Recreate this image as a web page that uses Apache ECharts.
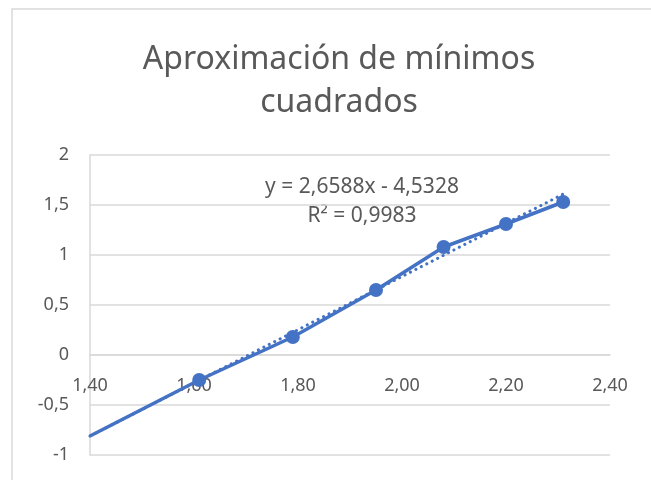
<!DOCTYPE html>
<html>
<head>
<meta charset="utf-8">
<script src="https://cdn.jsdelivr.net/npm/echarts@6/dist/echarts.min.js"></script>
<style>
  html, body { margin: 0; padding: 0; background: #fff; }
  #chart { width: 651px; height: 480px; }
</style>
</head>
<body>
<div id="chart"></div>
<script>
// Measured values (x, y)
const xValues = [1.61, 1.79, 1.95, 2.08, 2.20, 2.31];
const yValues = [-0.25, 0.18, 0.65, 1.08, 1.31, 1.53];

// Linear fit shown on the chart
const slope = 2.6588;
const intercept = -4.5328;
const rSquared = 0.9983;
const fitRange = [1.40, 2.31];

const yTicks = [-1, -0.5, 0, 0.5, 1, 1.5, 2];
const xTicks = [1.40, 1.60, 1.80, 2.00, 2.20, 2.40];

const titleText = 'Aproximación de mínimos\ncuadrados';

const fmt = (v, d) => v.toFixed(d).replace('.', ',');
const fitLabel = 'y = ' + fmt(slope, 4) + 'x - ' + fmt(-intercept, 4) + '\nR² = ' + fmt(rSquared, 4);

const fitPoints = fitRange.map(x => [x, slope * x + intercept]);
// Backward extension of the fit, up to the first measured point, drawn solid
const leadPoints = [[fitRange[0], slope * fitRange[0] + intercept], [xValues[0], yValues[0]]];
const dataPoints = xValues.map((x, i) => [x, yValues[i]]);

const blue = '#4472C4';
const textColor = '#595959';
const gridColor = '#D9D9D9';
const font = 'Noto Sans';

const gridTop = 155, gridBottom = 25;
const plotHeight = 480 - gridTop - gridBottom;
const yMin = yTicks[0], yMax = yTicks[yTicks.length - 1];
// Move the x axis up so it sits on y = 0
const xAxisOffset = -plotHeight * (0 - yMin) / (yMax - yMin);

const chart = echarts.init(document.getElementById('chart'));
chart.setOption({
  backgroundColor: '#fff',
  animation: false,
  title: {
    text: titleText,
    left: 334,
    textAlign: 'center',
    top: 33,
    textStyle: {
      fontFamily: font, fontSize: 32, fontWeight: 'normal', color: textColor, lineHeight: 43
    }
  },
  grid: { left: 90, right: 41, top: gridTop, bottom: gridBottom, outerBoundsMode: 'none', containLabel: false },
  xAxis: {
    type: 'value', min: xTicks[0], max: xTicks[xTicks.length - 1], interval: 0.2,
    offset: xAxisOffset,
    axisLine: { show: true, onZero: false, lineStyle: { color: gridColor, width: 1.5 } },
    axisTick: { show: false },
    splitLine: { show: false },
    axisLabel: {
      color: textColor, fontFamily: font, fontSize: 18, margin: 22,
      formatter: v => fmt(v, 2)
    }
  },
  yAxis: {
    type: 'value', min: yMin, max: yMax, interval: 0.5,
    axisLine: { show: true, lineStyle: { color: gridColor, width: 1.5 } },
    axisTick: { show: false },
    splitLine: { show: true, lineStyle: { color: gridColor, width: 1.5 } },
    axisLabel: {
      color: textColor, fontFamily: font, fontSize: 18, margin: 21,
      formatter: v => String(v).replace('.', ',')
    }
  },
  graphic: [{
    type: 'rect', shape: { x: 12, y: 9, width: 700, height: 600 },
    style: { fill: 'none', stroke: gridColor, lineWidth: 1.5 }, silent: true
  }, {
    type: 'text', x: 362, y: 173,
    style: {
      text: fitLabel, fill: textColor, font: '21px "Noto Sans"',
      textAlign: 'center', lineHeight: 29
    }
  }],
  series: [{
    type: 'line', data: fitPoints, symbol: 'none', z: 1,
    lineStyle: { color: blue, width: 3, type: [0.1, 6], cap: 'round' }
  }, {
    type: 'line', data: leadPoints, symbol: 'none', z: 2,
    lineStyle: { color: blue, width: 3.5 }
  }, {
    type: 'line', data: dataPoints, symbol: 'circle', symbolSize: 14, z: 3,
    itemStyle: { color: blue },
    lineStyle: { color: blue, width: 3.5 }
  }]
});
</script>
</body>
</html>
